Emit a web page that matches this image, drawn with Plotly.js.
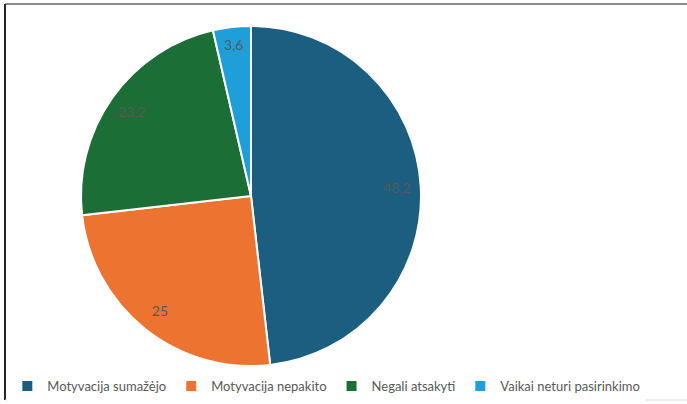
<!DOCTYPE html>
<html>
<head>
<meta charset="utf-8">
<script src="https://cdn.plot.ly/plotly-3.0.1.min.js"></script>
<style>
html,body{margin:0;padding:0;background:#fff;}
#chart{width:687px;height:404px;}
</style>
</head>
<body>
<div id="chart"></div>
<script>
const categories = ["Motyvacija sumažėjo", "Motyvacija nepakito", "Negali atsakyti", "Vaikai neturi pasirinkimo"];
const values = [48.2, 25, 23.2, 3.6];
const colors = ["#1b5e80", "#ed7331", "#1a6e36", "#1f9fd9"];

const W = 687, H = 404;
const cx = 251, cy = 196, R = 170;
const dom = {x: [(cx - R) / W, (cx + R) / W], y: [1 - (cy + R) / H, 1 - (cy - R) / H]};
const valueText = values.map(v => String(v).replace(".", ","));

const pie = {
  type: "pie",
  labels: categories,
  values: values,
  sort: false,
  direction: "clockwise",
  rotation: 0,
  domain: dom,
  marker: {colors: colors, line: {color: "#ffffff", width: 2}},
  textinfo: "none",
  hoverinfo: "label+value",
  showlegend: true
};
const labelsRing = {
  type: "pie",
  labels: categories,
  values: values,
  text: valueText,
  sort: false,
  direction: "clockwise",
  rotation: 0,
  hole: 0.72,
  domain: dom,
  marker: {colors: ["rgba(0,0,0,0)","rgba(0,0,0,0)","rgba(0,0,0,0)","rgba(0,0,0,0)"], line: {width: 0}},
  textinfo: "text",
  textposition: "inside",
  insidetextorientation: "horizontal",
  textfont: {color: "#595959", size: 14, family: "Lato, sans-serif"},
  hoverinfo: "skip",
  showlegend: false
};

const layout = {
  width: W, height: H,
  margin: {l: 0, r: 0, t: 0, b: 0},
  paper_bgcolor: "#ffffff",
  font: {family: "Lato, sans-serif", color: "#595959", size: 13},
  showlegend: true,
  legend: {
    orientation: "h",
    x: 0.475, xanchor: "center",
    y: 1 - 386 / H, yanchor: "middle",
    font: {size: 13, color: "#595959"},
    traceorder: "normal"
  },
  shapes: [
    {type: "line", xref: "paper", yref: "paper", x0: 5 / W, x1: 1, y0: 1 - 4 / H, y1: 1 - 4 / H, line: {color: "#8c8c8c", width: 2}},
    {type: "line", xref: "paper", yref: "paper", x0: 5 / W, x1: 5 / W, y0: 1 - 4 / H, y1: 1 - 400 / H, line: {color: "#262626", width: 2}},
    {type: "line", xref: "paper", yref: "paper", x0: 5 / W, x1: 1, y0: 1 - 400 / H, y1: 1 - 400 / H, line: {color: "#dcdcdc", width: 1}}
  ]
};

Plotly.newPlot("chart", [pie, labelsRing], layout, {displayModeBar: false, staticPlot: true});
</script>
</body>
</html>
